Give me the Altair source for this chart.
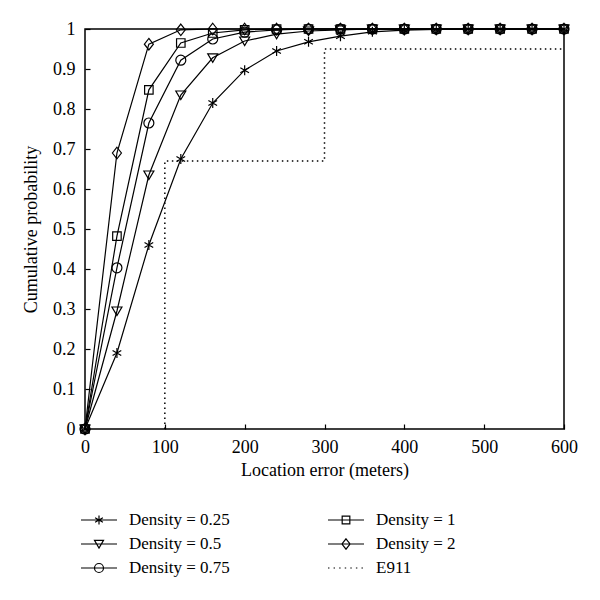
import altair as alt
import pandas as pd

# ---- data ----
x_vals = [0, 40, 80, 120, 160, 200, 240, 280, 320, 360, 400, 440, 480, 520, 560, 600]
d025 = [0, 0.19, 0.46, 0.675, 0.815, 0.897, 0.945, 0.968, 0.982, 0.993, 0.997, 0.999, 1, 1, 1, 1]
d05 = [0, 0.295, 0.635, 0.835, 0.928, 0.97, 0.987, 0.995, 0.998, 1, 1, 1, 1, 1, 1, 1]
d075 = [0, 0.403, 0.765, 0.922, 0.975, 0.992, 0.998, 1, 1, 1, 1, 1, 1, 1, 1, 1]
d1 = [0, 0.482, 0.848, 0.965, 0.99, 0.998, 1, 1, 1, 1, 1, 1, 1, 1, 1, 1]
d2 = [0, 0.69, 0.962, 0.998, 1, 1, 1, 1, 1, 1, 1, 1, 1, 1, 1, 1]

e911_x = [100, 100, 300, 300, 600]
e911_y = [0, 0.67, 0.67, 0.95, 0.95]

series_names = ["Density = 0.25", "Density = 0.5", "Density = 0.75", "Density = 1", "Density = 2"]
series_vals = [d025, d05, d075, d1, d2]
e911_name = "E911"

x_ticks = [0, 100, 200, 300, 400, 500, 600]
y_ticks = [0, 0.1, 0.2, 0.3, 0.4, 0.5, 0.6, 0.7, 0.8, 0.9, 1]

# ---- tables ----
rows = []
for name, vals in zip(series_names, series_vals):
    for xv, yv in zip(x_vals, vals):
        rows.append({"x": xv, "p": yv, "series": name})
df = pd.DataFrame(rows)
df_e = pd.DataFrame({"x": e911_x, "p": e911_y, "series": e911_name, "order": list(range(len(e911_x)))})

# ---- marker shapes (unit coords) ----
def asterisk(s):
    return (f"M0,{-s}V{s}M{-0.87*s},{-0.5*s}L{0.87*s},{0.5*s}"
            f"M{-0.87*s},{0.5*s}L{0.87*s},{-0.5*s}")

def tri_down(s):
    return f"M{-s},{-0.8*s}L{s},{-0.8*s}L0,{0.9*s}Z"

def circle(s):
    return f"M{-s},0A{s},{s} 0 1,0 {s},0A{s},{s} 0 1,0 {-s},0Z"

def square(s):
    return f"M{-0.85*s},{-0.85*s}H{0.85*s}V{0.85*s}H{-0.85*s}Z"

def diamond(s):
    return f"M0,{-1.15*s}L{0.9*s},0L0,{1.15*s}L{-0.9*s},0Z"

makers = [asterisk, tri_down, circle, square, diamond]
plot_shapes = [m(1.0) for m in makers]
legend_shapes = {name: "M-2,0H2" + m(0.5) for name, m in zip(series_names, makers)}
legend_shapes[e911_name] = "".join(f"M{-2 + i*0.62:.2f},0h0.16" for i in range(7))

legend_order = series_names + [e911_name]

FONT = "Liberation Serif"

x_axis = alt.Axis(values=x_ticks, title="Location error (meters)",
                  domain=False, grid=False, tickSize=alt.ExprRef(expr="-5"),
                  tickColor="black", tickWidth=1.2, labelPadding=14,
                  titlePadding=5, labelOverlap=False, labelFlush=False)
y_axis = alt.Axis(values=y_ticks, format=".1~f", title="Cumulative probability",
                  domain=False, grid=False, tickSize=alt.ExprRef(expr="-5"),
                  tickColor="black", tickWidth=1.2, labelPadding=15,
                  titlePadding=12, labelOverlap=False, labelFlush=False)
x_scale = alt.Scale(domain=[0, 600], nice=False)
y_scale = alt.Scale(domain=[0, 1], nice=False)

def X():
    return alt.X("x:Q", scale=x_scale, axis=x_axis)

def Y():
    return alt.Y("p:Q", scale=y_scale, axis=y_axis)

lines = alt.Chart(df).mark_line(color="black", strokeWidth=1.2).encode(
    x=X(), y=Y(), detail="series:N")

e911 = alt.Chart(df_e).mark_line(color="black", strokeWidth=1.5, strokeDash=[1.5, 3.5]).encode(
    x=X(), y=Y(), order="order:Q")

points = alt.Chart(df).mark_point(filled=False, color="black", strokeWidth=1.2, size=100,
                                  opacity=1).encode(
    x=X(), y=Y(),
    shape=alt.Shape("series:N", scale=alt.Scale(domain=series_names, range=plot_shapes),
                    legend=None))

legend_layer = alt.Chart(df).transform_filter("false").mark_point(
    filled=False, color="black", strokeWidth=1.2, opacity=1).encode(
    x=X(), y=Y(),
    shape=alt.Shape("key:N",
                    scale=alt.Scale(domain=legend_order,
                                    range=[legend_shapes[k] for k in legend_order]),
                    legend=alt.Legend(title=None, orient="none", legendX=4, legendY=481,
                                      columns=2, symbolSize=324, symbolStrokeWidth=1.2,
                                      symbolStrokeColor="black",
                                      symbolFillColor="transparent",
                                      labelOffset=20, columnPadding=95, rowPadding=6,
                                      labelFont=FONT, labelFontSize=17, labelColor="black",
                                      padding=0)))

chart = alt.layer(lines, e911, points, legend_layer).resolve_scale(
    shape="independent").properties(
    width=479, height=400,
    autosize=alt.AutoSizeParams(type="none"),
    padding={"left": 77, "top": 21, "right": 28, "bottom": 163},
).configure(background="white").configure_view(
    stroke="black", strokeWidth=1.5
).configure_axis(
    labelFont=FONT, titleFont=FONT, labelFontSize=18, titleFontSize=18,
    labelColor="black", titleColor="black", titleFontWeight="normal"
)

chart.save("out.html", embed_options={"renderer": "svg", "actions": False})
